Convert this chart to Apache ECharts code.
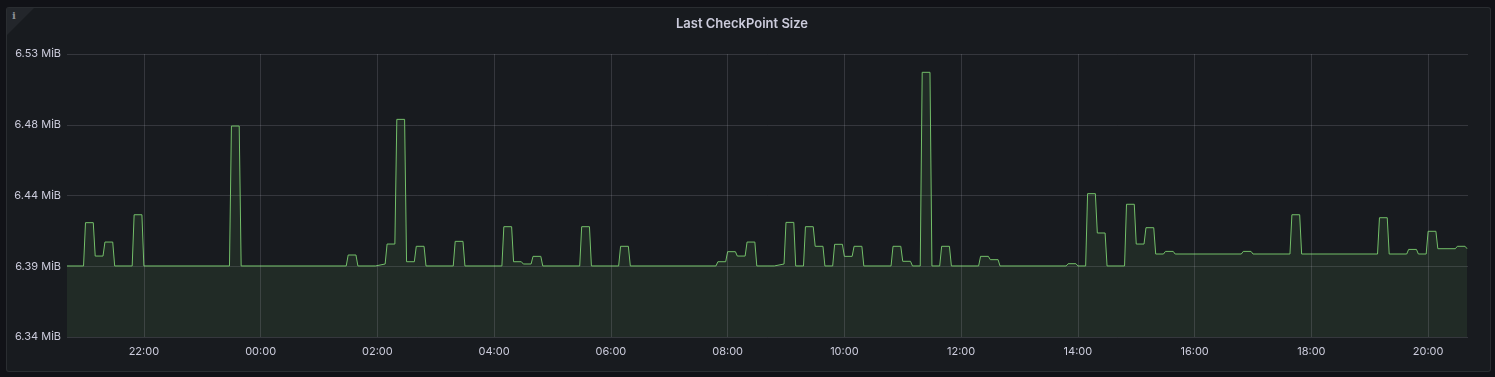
<!DOCTYPE html>
<html>
<head>
<meta charset="utf-8">
<script src="https://cdn.jsdelivr.net/npm/echarts@6/dist/echarts.min.js"></script>
<style>
  html, body { margin: 0; padding: 0; background: #111217; width: 1495px; height: 377px; overflow: hidden; }
  #panel { position: absolute; left: 6px; top: 7px; width: 1485px; height: 365px; background: #181b1f; border: 1px solid rgba(204,204,220,0.10); border-radius: 3px; box-sizing: border-box; }
  #corner { position: absolute; left: 7px; top: 8px; width: 0; height: 0; border-top: 27px solid #23262b; border-right: 27px solid transparent; }
  #info { position: absolute; left: 12px; top: 10px; font: bold 10px "DejaVu Serif", serif; color: #8e9096; }
  #chart { position: absolute; left: 0; top: 0; width: 1495px; height: 377px; }
</style>
</head>
<body>
<div id="panel"></div>
<div id="corner"></div>
<div id="info">i</div>
<div id="chart"></div>
<script>
// Title and axis ticks
const chartTitle = 'Last CheckPoint Size';
const yMin = 6650000, yMax = 6850000, yStep = 50000; // bytes
const rangeStart = '20:41', rangeEnd = '20:41';        // 24h window (day 1 -> day 2)
const tickEveryHours = 2;

// Corner points of the series (local time HH:MM, wraps past midnight) and size in bytes
const times = [
  '20:41','20:58','21:00','21:08','21:10','21:18','21:20','21:28','21:30','21:48','21:50','21:58','22:00',
  '23:28','23:30','23:38','23:40',
  '01:28','01:30','01:38','01:40','01:58','02:00','02:08','02:10','02:18','02:20','02:28','02:30','02:38','02:40','02:48','02:50',
  '03:18','03:20','03:28','03:30',
  '04:08','04:10','04:18','04:20','04:28','04:30','04:38','04:40','04:48','04:50',
  '05:28','05:30','05:38','05:40',
  '06:08','06:10','06:18','06:20',
  '07:48','07:50','07:58','08:00','08:08','08:10','08:18','08:20','08:28','08:30',
  '08:48','08:50','08:58','09:00','09:08','09:10',
  '09:18','09:20','09:28','09:30','09:38','09:40',
  '09:48','09:50','09:58','10:00','10:08','10:10','10:18','10:20',
  '10:48','10:50','10:58','11:00','11:08','11:10',
  '11:18','11:20','11:28','11:30',
  '11:38','11:40','11:48','11:50',
  '12:18','12:20','12:28','12:30','12:38','12:40',
  '13:48','13:50','13:58','14:00',
  '14:08','14:10','14:18','14:20','14:28','14:30',
  '14:48','14:50','14:58','15:00','15:08','15:10','15:18','15:20','15:28','15:30','15:38','15:40',
  '16:48','16:50','16:58','17:00',
  '17:38','17:40','17:48','17:50',
  '19:08','19:10','19:18','19:20',
  '19:38','19:40','19:48','19:50',
  '19:58','20:00','20:08','20:10','20:28','20:30','20:38','20:40'
];
const sizes = [
  6700200,6700200,6730800,6730800,6707200,6707200,6717100,6717100,6700200,6700200,6736400,6736400,6700200,
  6700200,6799100,6799100,6700200,
  6700200,6707950,6707950,6700200,6700200,6701600,6701600,6715700,6715700,6803800,6803800,6703200,6703200,6714100,6714100,6700200,
  6700200,6717600,6717600,6700200,
  6700200,6727950,6727950,6703200,6703200,6701600,6701600,6707000,6707000,6700200,
  6700200,6727950,6727950,6700200,
  6700200,6714100,6714100,6700200,
  6700200,6703200,6703200,6710300,6710300,6707200,6707200,6717100,6717100,6700200,
  6700200,6701600,6701600,6731000,6731000,6700200,
  6700200,6727950,6727950,6714100,6714100,6700200,
  6700200,6715500,6715500,6707000,6707000,6714100,6714100,6700200,
  6700200,6714100,6714100,6703500,6703500,6700200,
  6700200,6837050,6837050,6700200,
  6700200,6714100,6714100,6700200,
  6700200,6707000,6707000,6704650,6704650,6700200,
  6700200,6701800,6701800,6700200,
  6700200,6751300,6751300,6723500,6723500,6700200,
  6700200,6743800,6743800,6715700,6715700,6727250,6727250,6708650,6708650,6710500,6710500,6708650,
  6708650,6710500,6710500,6708650,
  6708650,6736400,6736400,6708650,
  6708650,6734300,6734300,6708650,
  6708650,6711900,6711900,6708650,
  6708650,6724700,6724700,6712400,6712400,6714100,6714100,6712400
];

// Convert HH:MM strings to timestamps, rolling over to the next day when time wraps
function toTs(hhmm, day) {
  const [h, m] = hhmm.split(':').map(Number);
  return new Date(2024, 0, 1 + day, h, m, 0).getTime();
}
let day = 0, prev = -1;
const points = times.map((t, i) => {
  const [h, m] = t.split(':').map(Number);
  const mins = h * 60 + m;
  if (mins < prev) day++;
  prev = mins;
  return [toTs(t, day), sizes[i]];
});
const xMin = toTs(rangeStart, 0), xMax = toTs(rangeEnd, 1);

const chart = echarts.init(document.getElementById('chart'), null, { renderer: 'canvas' });
const textColor = '#ccccdc';
const gridColor = 'rgba(204,204,220,0.16)';
const pad = n => String(n).padStart(2, '0');
chart.setOption({
  animation: false,
  backgroundColor: 'transparent',
  title: {
    text: chartTitle,
    left: 737, top: 13, textAlign: 'center',
    textStyle: { color: textColor, fontFamily: 'Inter', fontSize: 13, fontWeight: 600 }
  },
  grid: { left: 67, right: 27, top: 54, bottom: 40, containLabel: false },
  xAxis: {
    type: 'time',
    min: xMin, max: xMax,
    splitNumber: 12,
    axisLine: { show: false },
    axisTick: { show: false },
    axisLabel: {
      color: textColor, fontFamily: 'Inter', fontSize: 11, margin: 9,
      showMinLabel: false, showMaxLabel: false, hideOverlap: false,
      formatter: v => {
        const d = new Date(v);
        if (d.getMinutes() !== 0 || d.getHours() % tickEveryHours !== 0) return '';
        return pad(d.getHours()) + ':' + pad(d.getMinutes());
      }
    },
    splitLine: { show: false }
  },
  yAxis: {
    type: 'value',
    min: yMin, max: yMax, interval: yStep,
    axisLine: { show: false },
    axisTick: { show: false },
    axisLabel: {
      color: textColor, fontFamily: 'Inter', fontSize: 11, margin: 6,
      formatter: v => (v / 1048576).toFixed(2) + ' MiB'
    },
    splitLine: { show: true, lineStyle: { color: gridColor, width: 1 } }
  },
  series: [{
    type: 'line',
    data: points,
    showSymbol: false,
    symbol: 'none',
    lineStyle: { color: '#73BF69', width: 1 },
    areaStyle: { color: '#73BF69', opacity: 0.1 },
    silent: true,
    z: 3
  }, {
    // vertical grid lines at every labelled (even) hour
    type: 'line',
    data: [],
    silent: true,
    z: 1,
    markLine: {
      silent: true,
      symbol: 'none',
      label: { show: false },
      lineStyle: { color: gridColor, width: 1, type: 'solid' },
      data: (function () {
        const out = [];
        const first = new Date(xMin); first.setMinutes(0, 0, 0);
        for (let t = first.getTime(); t <= xMax; t += 3600 * 1000) {
          const h = new Date(t).getHours();
          if (t > xMin && t < xMax && h % tickEveryHours === 0) out.push({ xAxis: t });
        }
        return out;
      })()
    }
  }]
});
</script>
</body>
</html>
